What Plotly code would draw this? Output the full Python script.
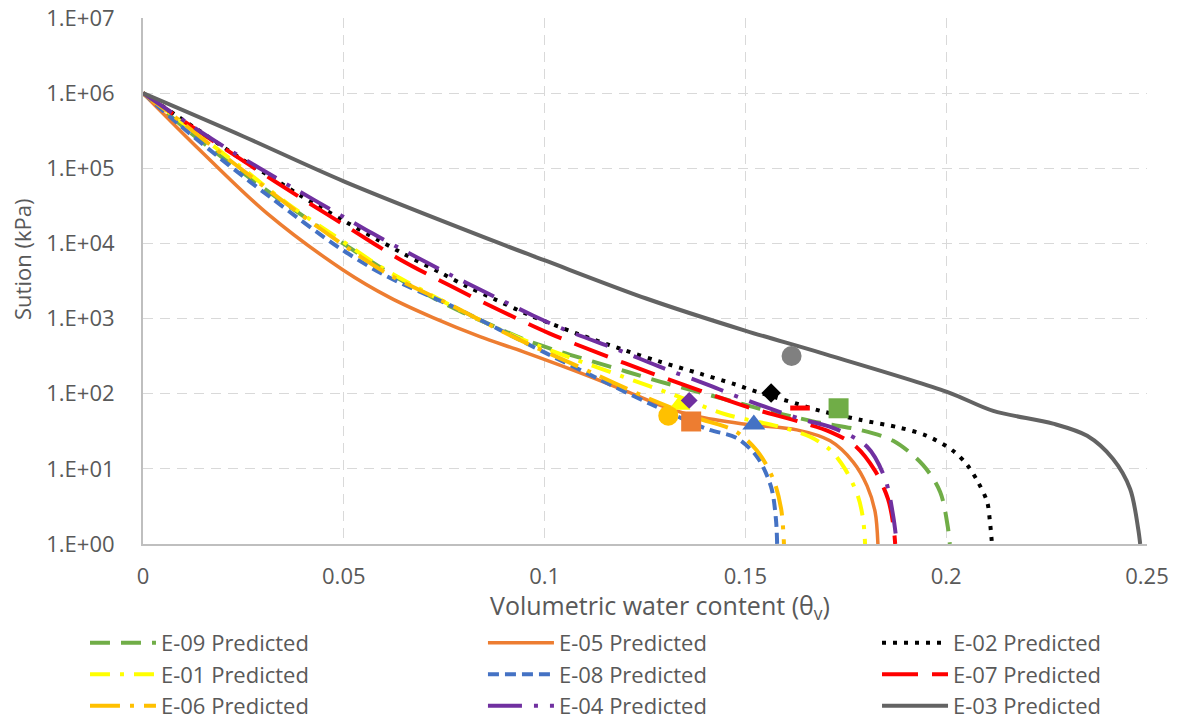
import plotly.graph_objects as go

# ---------------- data ----------------
x_e09 = [0, 0.0142, 0.0291, 0.0498, 0.0632, 0.0722, 0.0797, 0.0881, 0.0956, 0.1038, 0.1121, 0.1205,
         0.1287, 0.1370, 0.1454, 0.1536, 0.1619, 0.1686, 0.1785, 0.1868, 0.1942, 0.1985, 0.2004, 0.2009]
y_e09 = [1e6, 2.36e5, 5.93e4, 1.0e4, 3.52e3, 1.9e3, 1.2e3, 759, 509, 363, 267, 196,
         145, 110, 83, 63, 49.3, 41, 33, 23.6, 11.3, 4.93, 1.69, 1.0]

x_e05 = [0, 0.0142, 0.0309, 0.0500, 0.0615, 0.0722, 0.0839, 0.0946, 0.1113, 0.1213, 0.1312, 0.1387,
         0.1511, 0.1628, 0.1711, 0.1768, 0.1803, 0.1823, 0.1830]
y_e05 = [1e6, 1.74e5, 2.51e4, 4.37e3, 1.9e3, 1.03e3, 575, 363, 169, 103, 63, 49,
         38.6, 33, 23.6, 12.4, 5.93, 2.67, 1.0]

x_e02 = [0, 0.0142, 0.0242, 0.0324, 0.0391, 0.0498, 0.0583, 0.0647, 0.0740, 0.0807, 0.0872, 0.0959,
         0.1081, 0.1195, 0.1287, 0.1387, 0.1469, 0.1529, 0.1628, 0.1686, 0.1785, 0.1885, 0.1952,
         0.2017, 0.2052, 0.2079, 0.2102, 0.2109, 0.2114]
y_e02 = [1e6, 3.11e5, 1.36e5, 7.36e4, 4.37e4, 2.03e4, 1.13e4, 7.36e3, 4.1e3, 2.67e3, 1.85e3, 1.13e3,
         631, 386, 267, 185, 136, 106, 73.6, 59.3, 45, 35.2, 27.5,
         17.4, 11.3, 6.7, 3.63, 1.96, 1.0]

x_e01 = [0, 0.0117, 0.0242, 0.0359, 0.0498, 0.0590, 0.0697, 0.0822, 0.0946, 0.1071, 0.1195, 0.1320,
         0.1454, 0.1586, 0.1661, 0.1711, 0.1748, 0.1780, 0.1793, 0.1798]
y_e01 = [1e6, 3.41e5, 1.06e5, 3.41e4, 1.06e4, 4.94e3, 2.36e3, 1.06e3, 525, 293, 169, 97,
         52.5, 36.3, 26.7, 17.9, 10, 4.36, 2.15, 1.0]

x_e08 = [0, 0.0092, 0.0192, 0.0324, 0.0491, 0.0608, 0.0782, 0.1001, 0.1138, 0.1262, 0.1404, 0.1477,
         0.1529, 0.1564, 0.1576, 0.1579]
y_e08 = [1e6, 3.74e5, 1.36e5, 3.86e4, 8.58e3, 3.63e3, 1.36e3, 352, 154, 73.6, 34, 25.9,
         14.5, 5.75, 2.15, 1.0]

x_e07 = [0, 0.0142, 0.0266, 0.0391, 0.0515, 0.0640, 0.0764, 0.0889, 0.1013, 0.1138, 0.1262, 0.1387,
         0.1511, 0.1634, 0.1711, 0.1773, 0.1823, 0.1855, 0.1868, 0.1873]
y_e07 = [1e6, 3.02e5, 1.1e5, 4.1e4, 1.58e4, 6.12e3, 2.75e3, 1.28e3, 631, 341, 191, 110,
         65, 42.4, 31.1, 20.3, 9.4, 3.98, 1.85, 1.0]

x_e06 = [0, 0.00996, 0.0242, 0.0441, 0.0608, 0.0764, 0.0931, 0.1113, 0.1255, 0.1387, 0.1474, 0.1529,
         0.1569, 0.1589, 0.1596]
y_e06 = [1e6, 3.98e5, 1.0e5, 1.58e4, 3.98e3, 1.54e3, 541, 196, 88.5, 46.4, 32, 17.4,
         7.4, 2.93, 1.0]

x_e04 = [0, 0.0149, 0.0229, 0.0354, 0.0428, 0.0558, 0.0640, 0.0759, 0.0844, 0.0971, 0.1056, 0.1188,
         0.1280, 0.1412, 0.1494, 0.1636, 0.1718, 0.1803, 0.1848, 0.1868, 0.1877]
y_e04 = [1e6, 2.93e5, 1.58e5, 6.31e4, 3.74e4, 1.49e4, 8.58e3, 3.98e3, 2.36e3, 1.1e3, 692, 374,
         236, 128, 85.8, 46.4, 35.2, 19.7, 7.36, 2.36, 1.0]

x_e03 = [0, 0.0249, 0.0500, 0.0889, 0.1001, 0.1253, 0.1499, 0.1686, 0.2002, 0.2117, 0.2266, 0.2351,
         0.2415, 0.2458, 0.2478, 0.2483]
y_e03 = [1e6, 2.67e5, 6.7e4, 1e4, 5.93e3, 1.85e3, 692, 352, 106, 59, 40, 27.5,
         13.6, 5.4, 1.6, 1.0]

# measured points (not in legend)
meas_names = ["E-01", "E-06", "E-05", "E-04", "E-08", "E-02", "E-07", "E-09", "E-03"]
meas_x = [0.1336, 0.1308, 0.1365, 0.1360, 0.1521, 0.1564, 0.1636, 0.1732, 0.1615]
meas_y = [71, 51, 42.7, 81.5, 39, 102, 64.5, 64, 318]

y_tickvals = [1, 10, 100, 1e3, 1e4, 1e5, 1e6, 1e7]
y_ticktext = ["1.E+00", "1.E+01", "1.E+02", "1.E+03", "1.E+04", "1.E+05", "1.E+06", "1.E+07"]
x_tickvals = [0, 0.05, 0.1, 0.15, 0.2, 0.25]
x_ticktext = ["0", "0.05", "0.1", "0.15", "0.2", "0.25"]

# ---------------- styles ----------------
# (name, x, y, colour, width, dash, legend column)
series = [
    ("E-09 Predicted", x_e09, y_e09, "#70AD47", 4, "20px,11px", "legend"),
    ("E-05 Predicted", x_e05, y_e05, "#ED7D31", 3.5, "solid", "legend2"),
    ("E-02 Predicted", x_e02, y_e02, "#000000", 4, "4px,7px", "legend3"),
    ("E-01 Predicted", x_e01, y_e01, "#FFFF00", 4, "20px,10px,4px,10px", "legend"),
    ("E-08 Predicted", x_e08, y_e08, "#4472C4", 4, "11px,6px", "legend2"),
    ("E-07 Predicted", x_e07, y_e07, "#FF0000", 4, "36px,14px", "legend3"),
    ("E-06 Predicted", x_e06, y_e06, "#FFC000", 4, "30px,10px,4px,10px", "legend"),
    ("E-04 Predicted", x_e04, y_e04, "#7030A0", 4, "34px,12px,4px,12px", "legend2"),
    ("E-03 Predicted", x_e03, y_e03, "#636363", 4, "solid", "legend3"),
]

marker_styles = {
    "E-01": dict(symbol="triangle-up", size=19, color="#FFFF00"),
    "E-06": dict(symbol="circle", size=20, color="#FFC000"),
    "E-05": dict(symbol="square", size=20, color="#ED7D31"),
    "E-04": dict(symbol="diamond", size=13, color="#7030A0"),
    "E-08": dict(symbol="triangle-up", size=20, color="#4472C4"),
    "E-02": dict(symbol="diamond", size=15, color="#000000"),
    "E-07": dict(symbol="line-ew", size=14, color="#FF0000", line=dict(color="#FF0000", width=5)),
    "E-09": dict(symbol="square", size=20, color="#70AD47"),
    "E-03": dict(symbol="circle", size=20, color="#808080"),
}

fig = go.Figure()
for name, xs, ys, col, w, dash, lg in series:
    fig.add_trace(go.Scatter(
        x=xs, y=ys, mode="lines", name=name, legend=lg, legendgroup=name,
        line=dict(color=col, width=w, dash=dash, shape="spline", smoothing=0.9),
    ))

for nm, mx, my in zip(meas_names, meas_x, meas_y):
    st = dict(marker_styles[nm])
    if "line" not in st:
        st["line"] = dict(width=0)
    fig.add_trace(go.Scatter(x=[mx], y=[my], mode="markers", showlegend=False,
                             name=nm + " Measured", marker=st))

font_fam = "Open Sans, Liberation Sans, sans-serif"
grey_txt = "#595959"

leg_common = dict(orientation="v", yanchor="top", y=-0.148, xanchor="left",
                  itemwidth=66, font=dict(size=22, color=grey_txt, family=font_fam),
                  traceorder="normal", tracegroupgap=0, bgcolor="rgba(0,0,0,0)",
                  borderwidth=0)

fig.update_layout(
    width=1177, height=721,
    margin=dict(l=143, r=30, t=18, b=177, autoexpand=False),
    paper_bgcolor="white", plot_bgcolor="white",
    font=dict(family=font_fam, size=22, color=grey_txt),
    legend=dict(leg_common, x=-0.0578),
    legend2=dict(leg_common, x=0.3386),
    legend3=dict(leg_common, x=0.7311),
    showlegend=True,
    annotations=[
        dict(text="Sution (kPa)", textangle=-90, xref="paper", yref="paper",
             x=-0.1205, y=0.54, xanchor="center", yanchor="middle", showarrow=False,
             font=dict(size=22, color=grey_txt, family=font_fam)),
        dict(text="Volumetric water content (θ<sub>v</sub>)", xref="paper", yref="paper",
             x=0.515, y=-0.118, xanchor="center", yanchor="middle", showarrow=False,
             font=dict(size=25, color=grey_txt, family=font_fam)),
    ],
)

fig.update_xaxes(
    range=[0, 0.25], tickvals=x_tickvals, ticktext=x_ticktext,
    showgrid=True, gridcolor="#D9D9D9", gridwidth=1.3, griddash="10px,7px",
    showline=True, linecolor="#BFBFBF", linewidth=2, zeroline=False,
    ticks="", ticklabelstandoff=12, tickfont=dict(size=22, color=grey_txt),
)
fig.update_yaxes(
    type="log", range=[0, 7], tickvals=y_tickvals, ticktext=y_ticktext,
    showgrid=True, gridcolor="#D9D9D9", gridwidth=1.3, griddash="10px,7px",
    showline=True, linecolor="#BFBFBF", linewidth=2, zeroline=False,
    ticks="", ticklabelstandoff=22, tickfont=dict(size=22, color=grey_txt),
)

fig.write_html("out.html")
